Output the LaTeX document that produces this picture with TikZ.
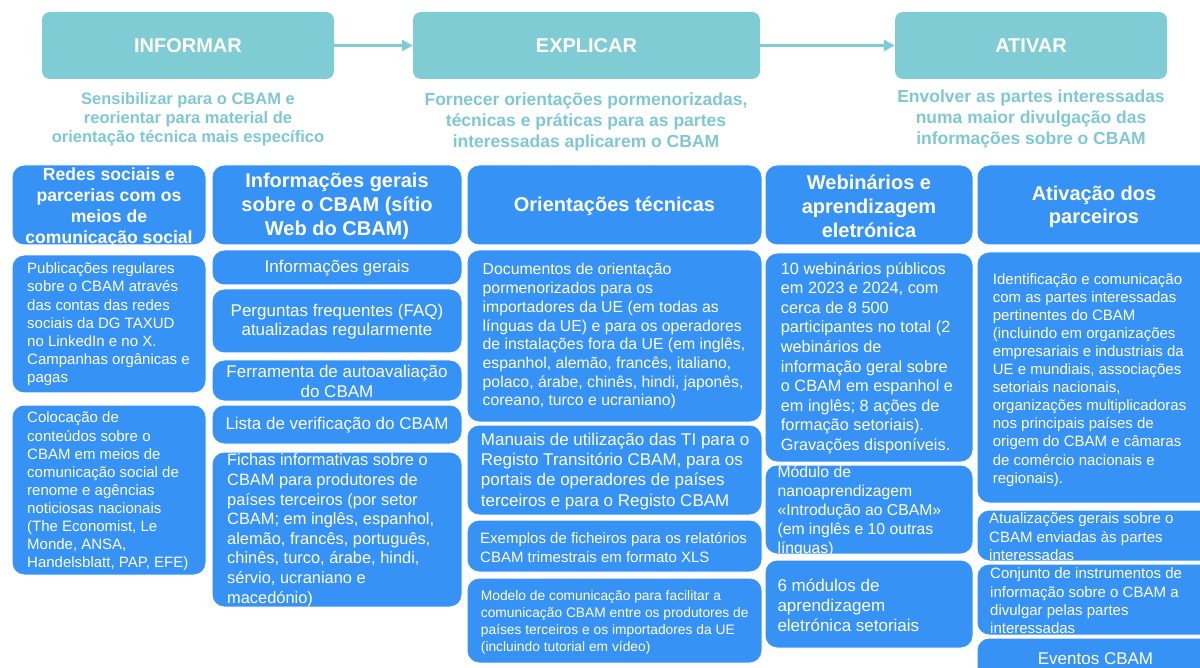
\documentclass[tikz,border=0pt]{standalone}
\usepackage{fontspec}
\setmainfont{Liberation Sans}
\usetikzlibrary{arrows.meta}
\definecolor{cbblue}{RGB}{55,146,246}
\definecolor{cbteal}{RGB}{128,204,212}
\definecolor{cbtealtext}{RGB}{126,200,211}
\newcommand\fsz[2]{\fontsize{#1pt}{#2pt}\selectfont}
\begin{document}
\begin{tikzpicture}[x=1pt,y=-1pt,
 phase/.style={fill=cbteal, draw=none, rounded corners=8pt, minimum height=67pt, inner sep=0pt, text=white, font=\bfseries\fsz{20}{24}},
 subt/.style={text=cbtealtext, font=\bfseries\fsz{16.5}{19}, align=center, inner sep=0pt},
 flow/.style={draw=cbteal, line width=3.5pt, -{Triangle[length=11pt,width=11pt]}},
 bbox/.style={fill=cbblue, draw=white, line width=1pt, rounded corners=12pt, inner sep=0pt},
 htxt/.style={text=white, font=\bfseries\fsz{20}{23.7}, align=center, inner sep=0pt},
 btxt/.style={text=white, align=left, inner sep=0pt, anchor=west},
 ctxt/.style={text=white, align=center, inner sep=0pt},
]
\useasboundingbox (0,0) rectangle (1200,668);
\clip (0,0) rectangle (1200,668);

% top phases
\node[phase, minimum width=292pt] (t1) at (188,45.5) {INFORMAR};
\node[phase, minimum width=347pt] (t2) at (586.5,45.5) {EXPLICAR};
\node[phase, minimum width=272pt] (t3) at (1031,45.5) {ATIVAR};
\draw[flow] (t1.east) -- (t2.west);
\draw[flow] (t2.east) -- (t3.west);

\node[subt] (s1) at (188,119.5) {Sensibilizar para o CBAM e\\reorientar para material de\\orientação técnica mais específico};
\node[subt, font=\bfseries\fsz{17.5}{21}] (s2) at (586,121.5) {Fornecer orientações pormenorizadas,\\técnicas e práticas para as partes\\interessadas aplicarem o CBAM};
\node[subt, font=\bfseries\fsz{17.5}{21}] (s3) at (1031,119) {Envolver as partes interessadas\\numa maior divulgação das\\informações sobre o CBAM};

% column 1
\node[bbox, minimum width=194pt, minimum height=80pt] (c1h) at (109,205) {};
\node[htxt, font=\bfseries\fsz{17.6}{21}] (c1ht) at (109,207) {Redes sociais e\\parcerias com os\\meios de\\comunicação social};
\node[bbox, minimum width=194pt, minimum height=138pt] (c1a) at (109,324) {};
\node[btxt, font=\fsz{15}{18.2}] (c1at) at (27,324.5) {Publicações regulares\\sobre o CBAM através\\das contas das redes\\sociais da DG TAXUD\\no LinkedIn e no X.\\Campanhas orgânicas e\\pagas};
\node[bbox, minimum width=194pt, minimum height=170pt] (c1b) at (109,490) {};
\node[btxt, font=\fsz{15}{18.1}] (c1bt) at (27,491.5) {Colocação de\\conteúdos sobre o\\CBAM em meios de\\comunicação social de\\renome e agências\\noticiosas nacionais\\(The Economist, Le\\Monde, ANSA,\\Handelsblatt, PAP, EFE)};

% column 2
\node[bbox, minimum width=250pt, minimum height=80pt] (c2h) at (337,205) {};
\node[htxt] (c2ht) at (337,206.5) {Informações gerais\\sobre o CBAM (sítio\\Web do CBAM)};
\node[bbox, minimum width=250pt, minimum height=35pt] (c2a) at (337,267.5) {};
\node[ctxt, font=\fsz{17}{19}] (c2at) at (337,268) {Informações gerais};
\node[bbox, minimum width=250pt, minimum height=64pt] (c2b) at (337,321) {};
\node[ctxt, font=\fsz{17}{19}] (c2bt) at (337,322) {Perguntas frequentes (FAQ)\\atualizadas regularmente};
\node[bbox, minimum width=250pt, minimum height=41pt] (c2c) at (337,380.5) {};
\node[ctxt, font=\fsz{17}{20}] (c2ct) at (337,381.7) {Ferramenta de autoavaliação\\do CBAM};
\node[bbox, minimum width=250pt, minimum height=39pt] (c2d) at (337,424.5) {};
\node[ctxt, font=\fsz{17}{20}] (c2dt) at (337,425) {Lista de verificação do CBAM};
\node[bbox, minimum width=250pt, minimum height=155pt] (c2e) at (337,529.5) {};
\node[btxt, font=\fsz{16.4}{19.6}] (c2et) at (227,530.3) {Fichas informativas sobre o\\CBAM para produtores de\\países terceiros (por setor\\CBAM; em inglês, espanhol,\\alemão, francês, português,\\chinês, turco, árabe, hindi,\\sérvio, ucraniano e\\macedónio)};

% column 3
\node[bbox, minimum width=295pt, minimum height=80pt] (c3h) at (614.5,205) {};
\node[htxt] (c3ht) at (614.5,206.7) {Orientações técnicas};
\node[bbox, minimum width=295pt, minimum height=172pt] (c3a) at (614.5,336) {};
\node[btxt, font=\fsz{15.8}{18.7}] (c3at) at (482.5,336.3) {Documentos de orientação\\pormenorizados para os\\importadores da UE (em todas as\\línguas da UE) e para os operadores\\de instalações fora da UE (em inglês,\\espanhol, alemão, francês, italiano,\\polaco, árabe, chinês, hindi, japonês,\\coreano, turco e ucraniano)};
\node[bbox, minimum width=295pt, minimum height=90pt] (c3b) at (614.5,470) {};
\node[btxt, font=\fsz{17}{20.3}] (c3bt) at (480.7,471.2) {Manuais de utilização das TI para o\\Registo Transitório CBAM, para os\\portais de operadores de países\\terceiros e para o Registo CBAM};
\node[bbox, minimum width=295pt, minimum height=52pt] (c3c) at (614.5,546) {};
\node[btxt, font=\fsz{15}{18.3}] (c3ct) at (480,547.5) {Exemplos de ficheiros para os relatórios\\CBAM trimestrais em formato XLS};
\node[bbox, minimum width=295pt, minimum height=85pt] (c3d) at (614.5,620.5) {};
\node[btxt, font=\fsz{13.8}{17}] (c3dt) at (480.7,622) {Modelo de comunicação para facilitar a\\comunicação CBAM entre os produtores de\\países terceiros e os importadores da UE\\(incluindo tutorial em vídeo)};

% column 4
\node[bbox, minimum width=208pt, minimum height=80pt] (c4h) at (869,205) {};
\node[htxt, font=\bfseries\fsz{20}{24}] (c4ht) at (869,206) {Webinários e\\aprendizagem\\eletrónica};
\node[bbox, minimum width=208pt, minimum height=209pt] (c4a) at (869,357.5) {};
\node[btxt, font=\fsz{16.3}{19.6}] (c4at) at (780.7,358) {10 webinários públicos\\em 2023 e 2024, com\\cerca de 8 500\\participantes no total (2\\webinários de\\informação geral sobre\\o CBAM em espanhol e\\em inglês; 8 ações de\\formação setoriais).\\Gravações disponíveis.};
\node[bbox, minimum width=208pt, minimum height=89pt] (c4b) at (869,509.5) {};
\node[btxt, font=\fsz{15.75}{19}] (c4bt) at (777.3,511.3) {Módulo de\\nanoaprendizagem\\«Introdução ao CBAM»\\(em inglês e 10 outras\\línguas)};
\node[bbox, minimum width=208pt, minimum height=88pt] (c4c) at (869,604) {};
\node[btxt, font=\fsz{17}{20}] (c4ct) at (777.3,605) {6 módulos de\\aprendizagem\\eletrónica setoriais};

% column 5
\node[bbox, minimum width=238pt, minimum height=80pt] (c5h) at (1096,205) {};
\node[htxt, font=\bfseries\fsz{20}{23.3}] (c5ht) at (1094,206.5) {Ativação dos\\parceiros};
\node[bbox, minimum width=238pt, minimum height=251pt] (c5a) at (1096,377.5) {};
\node[btxt, font=\fsz{15}{18.1}] (c5at) at (992.7,379.7) {Identificação e comunicação\\com as partes interessadas\\pertinentes do CBAM\\(incluindo em organizações\\empresariais e industriais da\\UE e mundiais, associações\\setoriais nacionais,\\organizações multiplicadoras\\nos principais países de\\origem do CBAM e câmaras\\de comércio nacionais e\\regionais).};
\node[bbox, minimum width=238pt, minimum height=51pt] (c5b) at (1096,535.5) {};
\node[btxt, font=\fsz{15}{18.3}] (c5bt) at (989,536.7) {Atualizações gerais sobre o\\CBAM enviadas às partes\\interessadas};
\node[bbox, minimum width=238pt, minimum height=71pt] (c5c) at (1096,599.5) {};
\node[btxt, font=\fsz{15}{18.3}] (c5ct) at (990,600.8) {Conjunto de instrumentos de\\informação sobre o CBAM a\\divulgar pelas partes\\interessadas};
\node[bbox, minimum width=238pt, minimum height=52pt] (c5d) at (1096,664) {};
\node[ctxt, font=\fsz{17}{20}] (c5dt) at (1095.5,658.3) {Eventos CBAM};
\end{tikzpicture}
\end{document}
